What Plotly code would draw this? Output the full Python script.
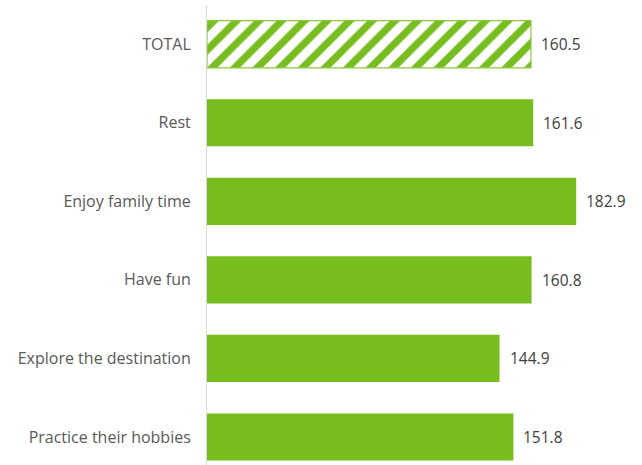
import plotly.graph_objects as go

categories = ["TOTAL", "Rest", "Enjoy family time", "Have fun", "Explore the destination", "Practice their hobbies"]
values = [160.5, 161.6, 182.9, 160.8, 144.9, 151.8]
value_labels = ["160.5", "161.6", "182.9", "160.8", "144.9", "151.8"]

GREEN = "#78BD20"
FONT = "Open Sans, sans-serif"

fig = go.Figure()
# hatched TOTAL bar
fig.add_trace(go.Bar(
    y=categories[:1], x=values[:1], orientation="h",
    marker=dict(color="white", line=dict(color="#8CC63F", width=1.2),
                pattern=dict(shape="/", fgcolor=GREEN, bgcolor="white", fgopacity=1,
                             size=16, solidity=0.45)),
    width=0.6, hoverinfo="skip",
))
fig.add_trace(go.Bar(
    y=categories[1:], x=values[1:], orientation="h",
    marker=dict(color=GREEN, line=dict(width=0)),
    width=0.6, hoverinfo="skip",
))
for c, v, t in zip(categories, values, value_labels):
    fig.add_annotation(x=v, y=c, text=t, xanchor="left", xshift=8, showarrow=False,
                       font=dict(family=FONT, size=15.5, color="#404040"))

fig.update_layout(
    width=642, height=465,
    margin=dict(l=207, r=1, t=5, b=0),
    paper_bgcolor="white", plot_bgcolor="white",
    showlegend=False, barmode="overlay",
    xaxis=dict(range=[0, 215], showgrid=False, showticklabels=False, zeroline=False, showline=False, fixedrange=True),
    yaxis=dict(categoryorder="array", categoryarray=categories, range=[5.357, -0.5],
               showgrid=False, zeroline=False, showline=True, linecolor="#D9D9D9", linewidth=1,
               ticks="", ticklabelstandoff=12,
               tickfont=dict(family=FONT, size=16, color="#595959")),
)
fig.write_html("out.html")
